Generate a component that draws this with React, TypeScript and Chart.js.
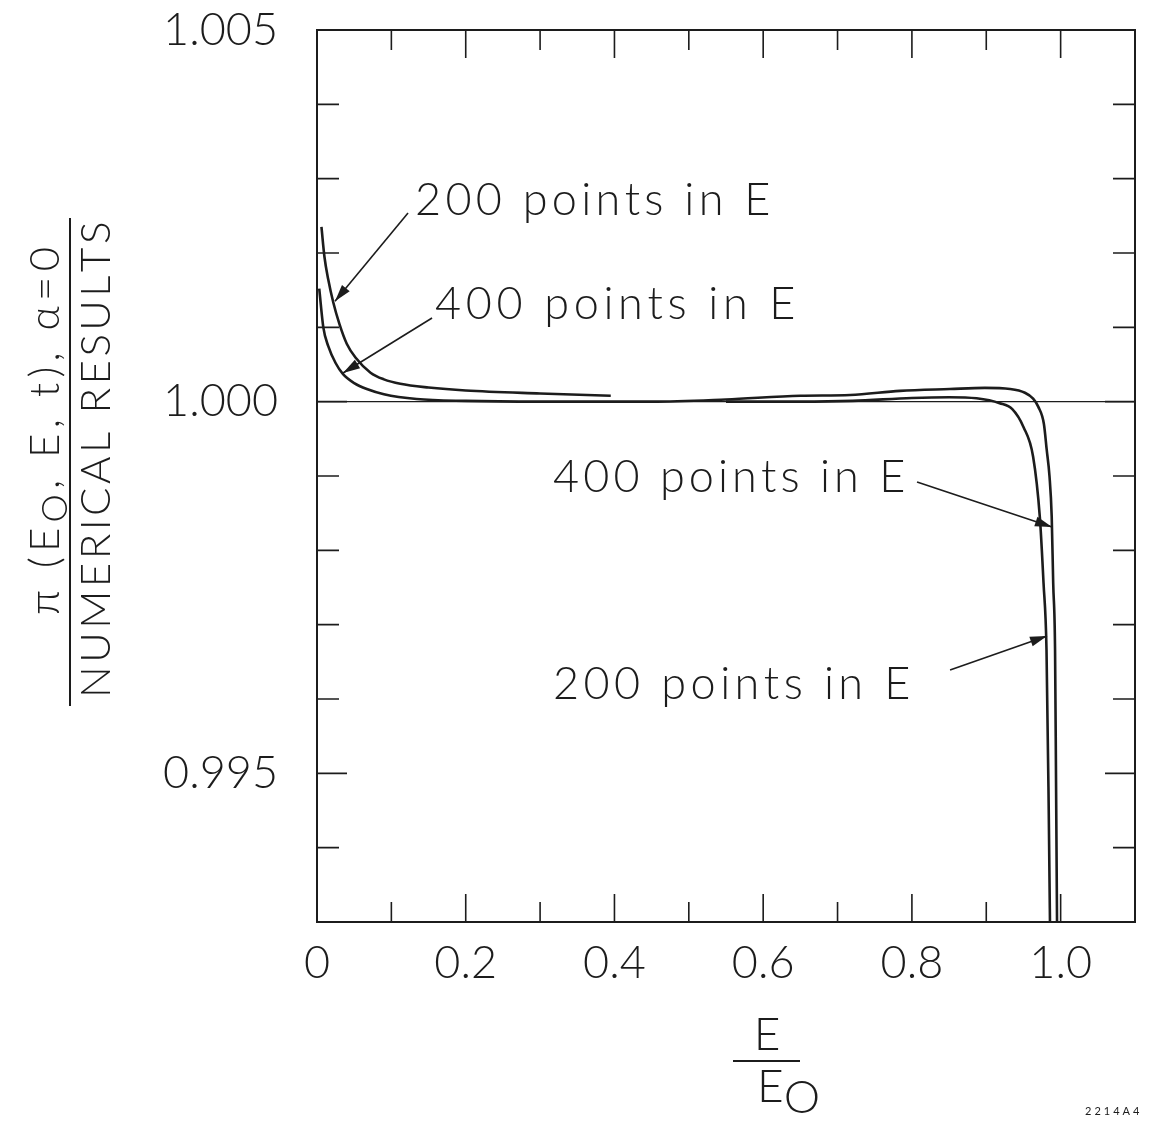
import React, { useEffect, useRef } from "react";
import { Chart, registerables } from "chart.js";

Chart.register(...registerables);

const FONT = "Lato, 'Open Sans', 'DejaVu Sans', sans-serif";
const INK = "#1c1c1c";

// ---- data ----
// "200 points in E" curve (left rise, gap, right drop)
const e200 = [0.006, 0.01, 0.015, 0.022, 0.03, 0.04, 0.052, 0.072, 0.09, 0.112, 0.15, 0.2, 0.3, 0.395, 0.5, 0.55, 0.65, 0.72, 0.8, 0.85, 0.887, 0.918, 0.935, 0.95, 0.963, 0.972, 0.977, 0.981, 0.984, 0.9862];
const r200 = [1.00235, 1.00195, 1.00165, 1.00133, 1.00105, 1.00078, 1.00059, 1.00039, 1.0003, 1.00024, 1.00019, 1.00015, 1.00011, 1.00008, null, 1.0, 1.0, 1.00001, 1.00005, 1.00006, 1.000045, 0.99998, 0.9999, 0.99966, 0.99926, 0.99845, 0.99756, 0.99666, 0.9945, 0.9925];

// "400 points in E" curve
const e400 = [0.003, 0.0085, 0.015, 0.025, 0.035, 0.05, 0.067, 0.09, 0.134, 0.2, 0.3, 0.45, 0.55, 0.65, 0.717, 0.784, 0.851, 0.898, 0.932, 0.952, 0.963, 0.97, 0.9775, 0.9813, 0.985, 0.988, 0.99, 0.9925, 0.9938, 0.9955];
const r400 = [1.00152, 1.0010, 1.00075, 1.00052, 1.00037, 1.00025, 1.00017, 1.0001, 1.000036, 1.00001, 1.0, 1.0, 1.00003, 1.00008, 1.00009, 1.000145, 1.00017, 1.000185, 1.00017, 1.00012, 1.00004, 0.99993, 0.9997, 0.99935, 0.999, 0.99845, 0.99756, 0.99666, 0.99491, 0.9925];

// reference line at ratio = 1
const refE = [0, 1.1];
const refR = [1, 1];

// axes
const xMin = 0;
const xMax = 1.1;
const yMin = 0.993;
const yMax = 1.005;
const xTickValues = [0, 0.2, 0.4, 0.6, 0.8, 1.0];
const xTickLabels = ["0", "0.2", "0.4", "0.6", "0.8", "1.0"];
const xMinorMarks = [0.1, 0.3, 0.5, 0.7, 0.9];
const xMajorMarks = [0.2, 0.4, 0.6, 0.8, 1.0];
const yTickValues = [0.995, 1.0, 1.005];
const yTickLabels = ["0.995", "1.000", "1.005"];
const yMinorMarks = [0.994, 0.996, 0.997, 0.998, 0.999, 1.001, 1.002, 1.003, 1.004];
const yMajorMarks = [0.995, 1.0];

// annotations (text anchor + arrow, in data coordinates)
const annText = ["200 points in E", "400 points in E", "400 points in E", "200 points in E"];
const annTextE = [0.1318, 0.1587, 0.3174, 0.3174];
const annTextR = [1.002713, 1.001301, 0.998974, 0.996189];
const annFromE = [0.1224, 0.1547, 0.8069, 0.8513];
const annFromR = [1.002539, 1.001126, 0.99892, 0.996391];
const annToE = [0.0242, 0.035, 0.9884, 0.9817];
const annToR = [1.001351, 1.000386, 0.998314, 0.996849];
const annWidth = [355, 360, 352, 357];

function toPoints(xs: number[], ys: (number | null)[]) {
  return xs.map((x, i) => ({ x, y: ys[i] }));
}

function setFont(ctx: CanvasRenderingContext2D, size: number) {
  ctx.font = `300 ${size}px ${FONT}`;
}

type Seg = { t: string; dy: number; s: number };

function drawSegs(ctx: CanvasRenderingContext2D, segs: Seg[], x: number, y: number, size: number, total: number | null, align: "left" | "center") {
  (ctx as any).letterSpacing = "0px";
  let w0 = 0;
  let n = 0;
  for (const sg of segs) {
    setFont(ctx, size * sg.s);
    w0 += ctx.measureText(sg.t).width;
    n += Array.from(sg.t).length;
  }
  const ls = total != null && n > 1 ? (total - w0) / (n - 1) : 0;
  const width = w0 + ls * (n - 1);
  let cx = align === "center" ? x - width / 2 : x;
  ctx.textAlign = "left";
  ctx.textBaseline = "middle";
  ctx.fillStyle = INK;
  for (const sg of segs) {
    setFont(ctx, size * sg.s);
    for (const ch of Array.from(sg.t)) {
      ctx.fillText(ch, cx, y + sg.dy);
      cx += ctx.measureText(ch).width + ls;
    }
  }
}

function arrow(ctx: CanvasRenderingContext2D, x1: number, y1: number, x2: number, y2: number) {
  ctx.strokeStyle = INK;
  ctx.fillStyle = INK;
  ctx.lineWidth = 1.6;
  ctx.beginPath();
  ctx.moveTo(x1, y1);
  ctx.lineTo(x2, y2);
  ctx.stroke();
  const a = Math.atan2(y2 - y1, x2 - x1);
  const L = 17;
  const W = 5;
  const bx = x2 - L * Math.cos(a);
  const by = y2 - L * Math.sin(a);
  ctx.beginPath();
  ctx.moveTo(x2, y2);
  ctx.lineTo(bx + W * Math.sin(a), by - W * Math.cos(a));
  ctx.lineTo(bx - W * Math.sin(a), by + W * Math.cos(a));
  ctx.closePath();
  ctx.fill();
}

const decor = {
  id: "decor",
  afterDraw(chart: any) {
    const ctx: CanvasRenderingContext2D = chart.ctx;
    const xs = chart.scales.x;
    const ys = chart.scales.y;
    const { left, right, top, bottom } = chart.chartArea;
    ctx.save();
    ctx.strokeStyle = INK;
    // frame
    ctx.lineWidth = 2;
    ctx.strokeRect(left, top, right - left, bottom - top);
    // x tick marks (inward, top & bottom)
    ctx.lineWidth = 1.6;
    const xMark = (v: number, len: number) => {
      const px = xs.getPixelForValue(v);
      ctx.beginPath();
      ctx.moveTo(px, bottom);
      ctx.lineTo(px, bottom - len);
      ctx.moveTo(px, top);
      ctx.lineTo(px, top + len);
      ctx.stroke();
    };
    xMinorMarks.forEach((v) => xMark(v, 20));
    xMajorMarks.forEach((v) => xMark(v, 28));
    const yMark = (v: number, len: number) => {
      const py = ys.getPixelForValue(v);
      ctx.beginPath();
      ctx.moveTo(left, py);
      ctx.lineTo(left + len, py);
      ctx.moveTo(right, py);
      ctx.lineTo(right - len, py);
      ctx.stroke();
    };
    yMinorMarks.forEach((v) => yMark(v, 22));
    yMajorMarks.forEach((v) => yMark(v, 30));

    // annotations
    annText.forEach((t, i) => {
      drawSegs(ctx, [{ t, dy: 0, s: 1 }], xs.getPixelForValue(annTextE[i]), ys.getPixelForValue(annTextR[i]), 45, annWidth[i], "left");
      arrow(ctx, xs.getPixelForValue(annFromE[i]), ys.getPixelForValue(annFromR[i]), xs.getPixelForValue(annToE[i]), ys.getPixelForValue(annToR[i]));
    });

    // y-axis title (fraction), rotated
    ctx.save();
    ctx.translate(45, 431);
    ctx.rotate(-Math.PI / 2);
    drawSegs(ctx, [
      { t: "π (E", dy: 0, s: 1 },
      { t: "O", dy: 10, s: 0.85 },
      { t: ", E, t), α=0", dy: 0, s: 1 },
    ], 0, 0, 42, 368, "center");
    ctx.restore();
    ctx.save();
    ctx.translate(96, 462);
    ctx.rotate(-Math.PI / 2);
    drawSegs(ctx, [{ t: "NUMERICAL RESULTS", dy: 0, s: 1 }], 0, 0, 42, 472, "center");
    ctx.restore();
    ctx.lineWidth = 2;
    ctx.beginPath();
    ctx.moveTo(70, 218);
    ctx.lineTo(70, 706);
    ctx.stroke();

    // x-axis title (fraction)
    drawSegs(ctx, [{ t: "E", dy: 0, s: 1 }], 767, 1035, 46, null, "center");
    ctx.beginPath();
    ctx.moveTo(733, 1061);
    ctx.lineTo(800, 1061);
    ctx.stroke();
    drawSegs(ctx, [
      { t: "E", dy: 0, s: 1 },
      { t: "O", dy: 11, s: 1 },
    ], 757, 1087, 46, null, "left");

    // figure id
    (ctx as any).letterSpacing = "3px";
    ctx.font = `11px ${FONT}`;
    ctx.textAlign = "left";
    ctx.textBaseline = "middle";
    ctx.fillText("2214A4", 1085, 1111);
    (ctx as any).letterSpacing = "0px";
    ctx.restore();
  },
};

export default function App() {
  const ref = useRef<HTMLCanvasElement | null>(null);
  useEffect(() => {
    if (!ref.current) return;
    const tickFont = { family: FONT, size: 45, weight: "300" as any };
    const chart = new Chart(ref.current, {
      type: "line",
      data: {
        datasets: [
          {
            label: "ratio = 1",
            data: toPoints(refE, refR),
            borderColor: INK,
            borderWidth: 1.3,
            pointRadius: 0,
          },
          {
            label: "200 points in E",
            data: toPoints(e200, r200) as any,
            borderColor: INK,
            borderWidth: 2.6,
            pointRadius: 0,
            cubicInterpolationMode: "monotone",
            spanGaps: false,
          },
          {
            label: "400 points in E",
            data: toPoints(e400, r400),
            borderColor: INK,
            borderWidth: 2.6,
            pointRadius: 0,
            cubicInterpolationMode: "monotone",
          },
        ],
      },
      options: {
        responsive: false,
        animation: false,
        devicePixelRatio: 1,
        layout: { padding: { top: 30, right: 14, left: 0, bottom: 0 } },
        plugins: {
          legend: { display: false },
          tooltip: { enabled: false },
          title: { display: false },
        },
        scales: {
          x: {
            type: "linear",
            min: xMin,
            max: xMax,
            grid: { display: false, drawTicks: false },
            border: { display: false },
            ticks: {
              font: tickFont,
              color: INK,
              padding: 14,
              autoSkip: false,
              maxRotation: 0,
              callback: (_v: any, i: number) => xTickLabels[i],
            },
            afterBuildTicks: (s: any) => {
              s.ticks = xTickValues.map((value) => ({ value }));
            },
            afterFit: (s: any) => {
              s.height = 199;
              s.paddingLeft = 0;
              s.paddingRight = 0;
              s.paddingTop = 0;
              s.paddingBottom = 0;
            },
          },
          y: {
            type: "linear",
            min: yMin,
            max: yMax,
            grid: { display: false, drawTicks: false },
            border: { display: false },
            ticks: {
              font: tickFont,
              color: INK,
              padding: 39,
              autoSkip: false,
              callback: (_v: any, i: number) => yTickLabels[i],
            },
            afterBuildTicks: (s: any) => {
              s.ticks = yTickValues.map((value) => ({ value }));
            },
            afterFit: (s: any) => {
              s.width = 317;
              s.paddingLeft = 0;
              s.paddingRight = 0;
              s.paddingTop = 0;
              s.paddingBottom = 0;
            },
          },
        },
      },
      plugins: [decor],
    });
    return () => chart.destroy();
  }, []);
  return (
    <div style={{ position: "absolute", left: 0, top: 0, width: 1149, height: 1121, background: "#fff" }}>
      <canvas ref={ref} width={1149} height={1121} style={{ width: 1149, height: 1121, display: "block" }} />
    </div>
  );
}
